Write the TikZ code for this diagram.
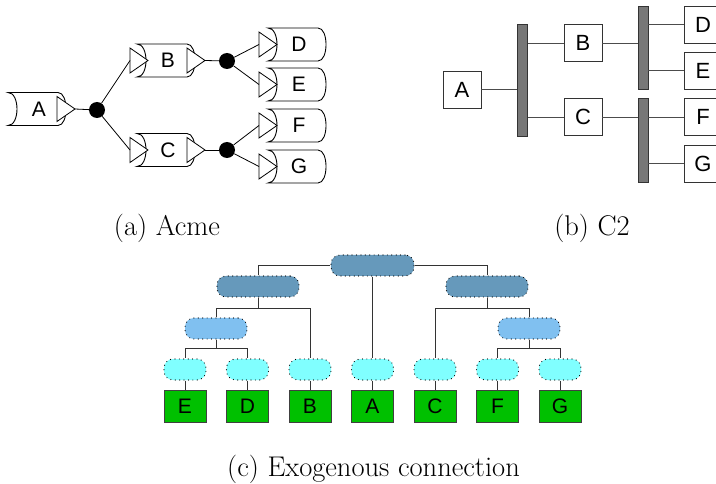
\documentclass[tikz,border=0pt]{standalone}
\usepackage{fontspec}
\setsansfont{Liberation Sans}
\usetikzlibrary{shapes.geometric,calc}
\definecolor{rootblue}{RGB}{102,153,187}
\definecolor{midblue}{RGB}{128,192,240}
\definecolor{cyanish}{RGB}{128,255,255}
\definecolor{leafgreen}{RGB}{0,192,0}
\definecolor{bargray}{RGB}{119,119,119}
\newcommand\acmeshape[1]{%
  \draw[acmeline] ([xshift=-31pt]#1.north) -- ([xshift=19pt]#1.north)
    .. controls ([xshift=29.7pt]#1.north) and ([xshift=29.7pt]#1.south) .. ([xshift=19pt]#1.south)
    -- ([xshift=-31pt]#1.south)
    .. controls ([xshift=-19pt]#1.south) and ([xshift=-19pt]#1.north) .. cycle;}
\begin{document}
\begin{tikzpicture}[x=1pt,y=-1pt,
  acmelabel/.style={inner sep=0pt,outer sep=0pt,minimum width=40pt,minimum height=33pt,
    font=\sffamily\fontsize{21}{21}\selectfont},
  acmeline/.style={draw=black,line width=0.9pt},
  port/.style={isosceles triangle,isosceles triangle stretches,shape border rotate=0,
    minimum width=25pt,minimum height=18pt,inner sep=0pt,outer sep=0pt,
    draw=black,fill=white,line width=0.8pt,anchor=lower side},
  junction/.style={circle,fill=black,inner sep=0pt,minimum size=16pt},
  link/.style={draw=black,line width=0.8pt},
  cbox/.style={rectangle,draw=black!80,fill=white,line width=0.8pt,minimum width=38pt,
    minimum height=37pt,inner sep=0pt,font=\sffamily\fontsize{22}{22}\selectfont},
  bar/.style={rectangle,draw=black!80,fill=bargray,line width=0.8pt,minimum width=10pt,inner sep=0pt},
  clink/.style={draw=black!70,line width=0.9pt},
  tnode/.style={rectangle,rounded corners=9pt,minimum height=21pt,inner sep=0pt,
    draw=black,line width=1.2pt,dash pattern=on 0.01pt off 4.4pt,line cap=round},
  lvone/.style={tnode,fill=rootblue,minimum width=83pt},
  lvtwo/.style={tnode,fill=rootblue,minimum width=82pt},
  lvthree/.style={tnode,fill=midblue,minimum width=62pt},
  lvfour/.style={tnode,fill=cyanish,minimum width=42pt},
  leaf/.style={rectangle,draw=black!75,fill=leafgreen,line width=0.9pt,minimum width=42pt,
    minimum height=32pt,inner sep=0pt,font=\sffamily\fontsize{21}{21}\selectfont},
  tlink/.style={draw=black!80,line width=0.9pt},
  caption/.style={font=\fontsize{28.5}{32}\selectfont,inner sep=0pt,anchor=base}
]
\useasboundingbox (0,0) rectangle (716,484);
\clip (0,0) rectangle (716,484);

% ---------------- (a) Acme ----------------
\node[acmelabel] (A) at (39,109) {A};
\node[acmelabel] (B) at (168,60.5) {B};
\node[acmelabel] (C) at (168,150) {C};
\node[acmelabel] (D) at (299,44.5) {D};
\node[acmelabel] (E) at (299,84.5) {E};
\node[acmelabel] (F) at (299,125.5) {F};
\node[acmelabel] (G) at (299,166.5) {G};
\acmeshape{A}\acmeshape{B}\acmeshape{C}\acmeshape{D}\acmeshape{E}\acmeshape{F}\acmeshape{G}
\node[port] (Ao) at (57,109) {};
\node[port] (Bi) at (130,60.5) {};
\node[port] (Bo) at (187,60.5) {};
\node[port] (Ci) at (130,150) {};
\node[port] (Co) at (187,150) {};
\node[port] (Di) at (259,44.5) {};
\node[port] (Ei) at (259,84.5) {};
\node[port] (Fi) at (259,125.5) {};
\node[port] (Gi) at (259,166.5) {};
\node[junction] (j1) at (97,110) {};
\node[junction] (j2) at (227,61) {};
\node[junction] (j3) at (227,150) {};
\draw[link] (Ao.apex) -- (j1);
\draw[link] (j1) -- (Bi.lower side);
\draw[link] (j1) -- (Ci.lower side);
\draw[link] (Bo.apex) -- (j2);
\draw[link] (j2) -- (Di.lower side);
\draw[link] (j2) -- (Ei.lower side);
\draw[link] (Co.apex) -- (j3);
\draw[link] (j3) -- (Fi.lower side);
\draw[link] (j3) -- (Gi.lower side);

% ---------------- (b) C2 ----------------
\node[cbox] (bA) at (462,89.5) {A};
\node[bar,minimum height=112pt] (bar1) at (522.5,80) {};
\node[cbox] (bB) at (583,43) {B};
\node[cbox] (bC) at (583,117) {C};
\node[bar,minimum height=83pt] (bar2) at (643,47.5) {};
\node[bar,minimum height=84pt] (bar3) at (643,140) {};
\node[cbox] (bD) at (703,24.5) {D};
\node[cbox] (bE) at (703,70.5) {E};
\node[cbox] (bF) at (703,117) {F};
\node[cbox] (bG) at (703,163.5) {G};
\draw[clink] (bA) -- (bA -| bar1.west);
\draw[clink] (bar1.east |- bB) -- (bB);
\draw[clink] (bar1.east |- bC) -- (bC);
\draw[clink] (bB) -- (bB -| bar2.west);
\draw[clink] (bC) -- (bC -| bar3.west);
\draw[clink] (bar2.east |- bD) -- (bD);
\draw[clink] (bar2.east |- bE) -- (bE);
\draw[clink] (bar3.east |- bF) -- (bF);
\draw[clink] (bar3.east |- bG) -- (bG);

% ---------------- (c) Exogenous connection ----------------
\node[lvone] (root) at (372.5,265.5) {};
\node[lvtwo] (ml) at (258,286.5) {};
\node[lvtwo] (mr) at (487,286.5) {};
\node[lvthree] (sl) at (216,328.5) {};
\node[lvthree] (sr) at (529,328.5) {};
\node[lvfour] (cE) at (185,369.5) {};
\node[lvfour] (cD) at (247.5,369.5) {};
\node[lvfour] (cB) at (310,369.5) {};
\node[lvfour] (cA) at (372.5,369.5) {};
\node[lvfour] (cC) at (435,369.5) {};
\node[lvfour] (cF) at (497.5,369.5) {};
\node[lvfour] (cG) at (560,369.5) {};
\node[leaf] (gE) at (185,406) {E};
\node[leaf] (gD) at (247.5,406) {D};
\node[leaf] (gB) at (310,406) {B};
\node[leaf] (gA) at (372.5,406) {A};
\node[leaf] (gC) at (435,406) {C};
\node[leaf] (gF) at (497.5,406) {F};
\node[leaf] (gG) at (560,406) {G};
\draw[tlink] (root.west) -| (ml.north);
\draw[tlink] (root.east) -| (mr.north);
\draw[tlink] (root.south) -- (cA.north);
\draw[tlink] (ml.south) -- ++(0,10.5) -| (sl.north);
\draw[tlink] (ml.south) -- ++(0,10.5) -| (cB.north);
\draw[tlink] (mr.south) -- ++(0,10.5) -| (cC.north);
\draw[tlink] (mr.south) -- ++(0,10.5) -| (sr.north);
\draw[tlink] (sl.south) -- ++(0,9) -| (cE.north);
\draw[tlink] (sl.south) -- ++(0,9) -| (cD.north);
\draw[tlink] (sr.south) -- ++(0,9) -| (cF.north);
\draw[tlink] (sr.south) -- ++(0,9) -| (cG.north);
\foreach \n in {E,D,B,A,C,F,G}{\draw[tlink] (c\n.south) -- (g\n.north);}

% ---------------- captions ----------------
\node[caption] (capa) at (167,236) {(a) Acme};
\node[caption] (capb) at (592,236) {(b) C2};
\node[caption] (capc) at (373.5,476) {(c) Exogenous connection};
\end{tikzpicture}
\end{document}
